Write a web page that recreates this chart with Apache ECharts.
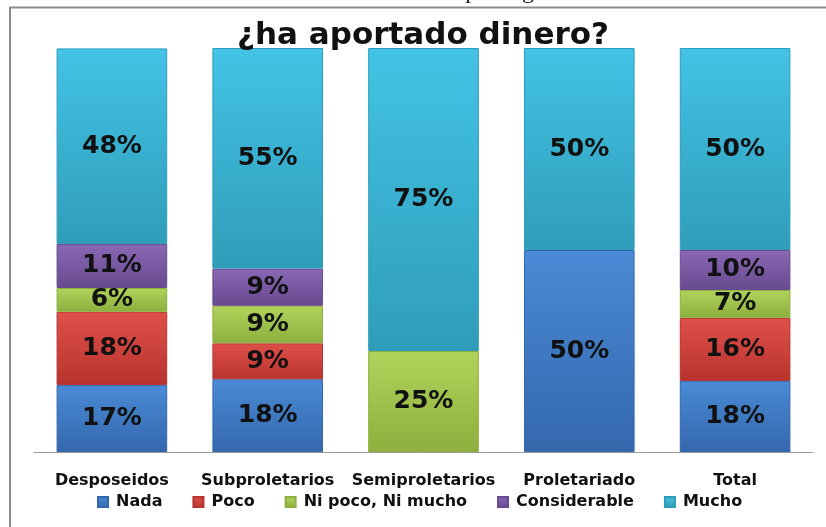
<!DOCTYPE html>
<html>
<head>
<meta charset="utf-8">
<script src="https://cdn.jsdelivr.net/npm/echarts@6/dist/echarts.min.js"></script>
<style>
  html, body { margin: 0; padding: 0; background: #fff; }
  #myChart { width: 826px; height: 527px; }
</style>
</head>
<body>
<div id="myChart"></div>
<script>
// categorias y porcentajes (apilado al 100%)
var categorias = ["Desposeidos", "Subproletarios", "Semiproletarios", "Proletariado", "Total"];
var nada = [16.6, 18.0, 0, 50.0, 17.6];
var poco = [18.1, 8.9, 0, 0, 15.6];
var niPocoNiMucho = [5.9, 9.3, 25.0, 0, 6.9];
var considerable = [10.9, 9.2, 0, 0, 9.9];
var mucho = [48.4, 54.6, 75.0, 50.0, 50.0];

var nombres = ["Nada", "Poco", "Ni poco, Ni mucho", "Considerable", "Mucho"];
var valores = [nada, poco, niPocoNiMucho, considerable, mucho];
// color claro arriba, oscuro abajo (efecto bisel de Excel)
var colores = [
  ["#4a8ad6", "#3468ad"],
  ["#e0504a", "#b8332e"],
  ["#b0d45a", "#8caf3e"],
  ["#8a68b4", "#684a8f"],
  ["#43c3e6", "#2f9db9"]
];

var myChart = echarts.init(document.getElementById("myChart"));

var series = nombres.map(function (n, i) {
  return {
    name: n,
    type: "bar",
    stack: "total",
    barWidth: "71%",
    data: valores[i].map(function (v) { return v > 0 ? v : null; }),
    itemStyle: {
      color: new echarts.graphic.LinearGradient(0, 0, 0, 1, [
        { offset: 0, color: colores[i][0] },
        { offset: 1, color: colores[i][1] }
      ]),
      borderColor: colores[i][1],
      borderWidth: 1
    },
    label: {
      show: true,
      position: "inside",
      color: "#111",
      fontFamily: "DejaVu Sans",
      fontWeight: "bold",
      fontSize: 25,
      formatter: function (p) { return Math.round(p.value) + "%"; }
    }
  };
});

myChart.setOption({
  animation: false,
  color: colores.map(function (c) { return c[0]; }),
  title: {
    text: "¿ha aportado dinero?",
    left: 418,
    textAlign: "center",
    top: 15,
    textStyle: {
      fontFamily: "DejaVu Sans",
      fontWeight: "bold",
      fontSize: 31,
      color: "#111"
    }
  },
  legend: {
    data: nombres,
    left: 92,
    top: 489,
    itemWidth: 10,
    itemHeight: 10,
    itemGap: 30,
    icon: "rect",
    selectedMode: false,
    textStyle: {
      fontFamily: "DejaVu Sans",
      fontWeight: "bold",
      fontSize: 16,
      color: "#111",
      padding: [0, 0, 0, 3]
    }
  },
  grid: {
    left: 34,
    right: 13,
    top: 48,
    bottom: 75,
    containLabel: false
  },
  xAxis: {
    type: "category",
    data: categorias,
    axisLine: { lineStyle: { color: "#999", width: 1 } },
    axisTick: { show: false },
    axisLabel: {
      margin: 21,
      fontFamily: "DejaVu Sans",
      fontWeight: "bold",
      fontSize: 16,
      color: "#111",
      interval: 0
    }
  },
  yAxis: {
    type: "value",
    min: 0,
    max: 100,
    show: false
  },
  graphic: [
    { type: "line", shape: { x1: 9, y1: 7.5, x2: 826, y2: 7.5 }, style: { stroke: "#8c8c8c", lineWidth: 2 } },
    { type: "line", shape: { x1: 10, y1: 7, x2: 10, y2: 527 }, style: { stroke: "#8c8c8c", lineWidth: 2 } },
    {
      type: "text",
      left: 420,
      top: -20,
      style: {
        text: "Campo Lógico",
        font: "24px 'Liberation Serif'",
        fill: "#222"
      }
    }
  ],
  series: series
});
</script>
</body>
</html>
